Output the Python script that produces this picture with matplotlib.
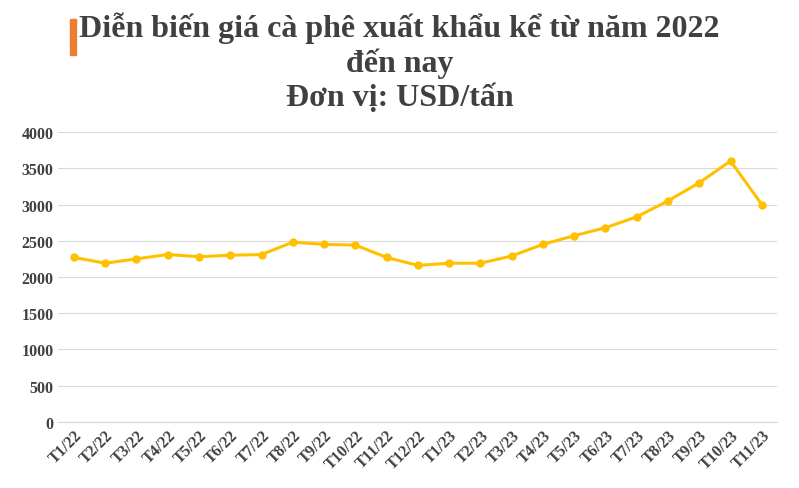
import matplotlib.pyplot as plt
from matplotlib.patches import Rectangle

plt.rcParams['font.family'] = ['Liberation Serif', 'DejaVu Serif']

thang = ['T1/22', 'T2/22', 'T3/22', 'T4/22', 'T5/22', 'T6/22', 'T7/22', 'T8/22',
         'T9/22', 'T10/22', 'T11/22', 'T12/22', 'T1/23', 'T2/23', 'T3/23', 'T4/23',
         'T5/23', 'T6/23', 'T7/23', 'T8/23', 'T9/23', 'T10/23', 'T11/23']
gia = [2270, 2190, 2250, 2310, 2280, 2300, 2310, 2480, 2450, 2440, 2270, 2160,
       2190, 2190, 2290, 2450, 2570, 2680, 2830, 3050, 3300, 3600, 3000]

fig = plt.figure(figsize=(7.99, 4.89), dpi=100)
ax = fig.add_axes([0.073, 0.135, 0.90, 0.593])

x = list(range(len(thang)))
ax.plot(x, gia, color='#FFC000', lw=2.2, marker='o', ms=5)
ax.set_ylim(0, 4000)
ax.set_yticks(range(0, 4001, 500))
ax.set_xlim(-0.5, len(thang) - 0.5)
ax.set_xticks(x)
ax.set_xticklabels(thang, rotation=45, ha='right', rotation_mode='anchor')
ax.grid(axis='y', color='#d9d9d9', lw=0.8)
ax.set_axisbelow(True)
for s in ['top', 'right', 'left']:
    ax.spines[s].set_visible(False)
ax.spines['bottom'].set_color('#d9d9d9')
ax.tick_params(length=0, labelsize=11.5, colors='#404040')
for t in ax.get_xticklabels() + ax.get_yticklabels():
    t.set_fontweight('bold')

fig.text(0.5, 0.975, 'Diễn biến giá cà phê xuất khẩu kể từ năm 2022\nđến nay\nĐơn vị: USD/tấn',
         ha='center', va='top', fontsize=23, fontweight='bold', color='#404040',
         linespacing=1.2)
fig.patches.append(Rectangle((0.088, 0.885), 0.007, 0.075, transform=fig.transFigure,
                             color='#ED7D31'))

fig.savefig('out.png', dpi=100)
